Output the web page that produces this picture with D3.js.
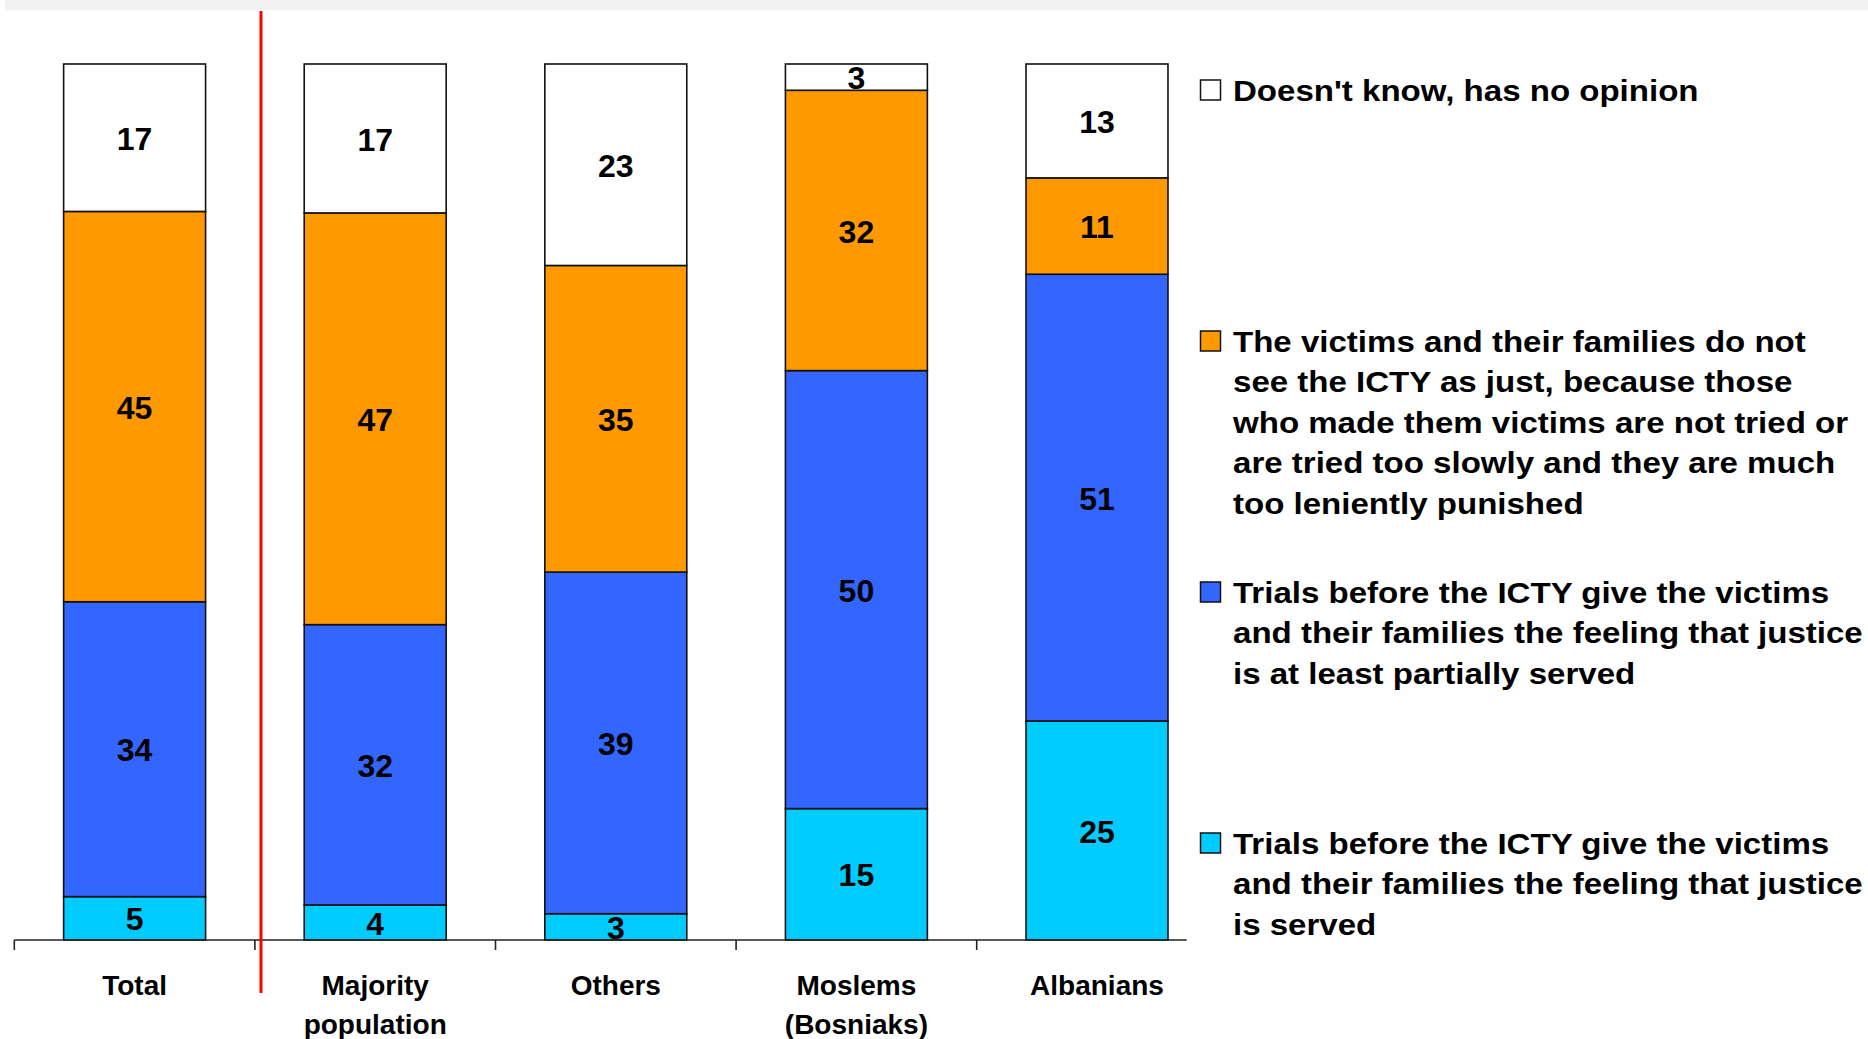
<!DOCTYPE html>
<html>
<head>
<meta charset="utf-8">
<script src="https://cdn.jsdelivr.net/npm/d3@7"></script>
<style>
  html, body { margin: 0; padding: 0; background: #fff; }
  svg { display: block; }
  text { font-family: "Liberation Sans", Arial, sans-serif; font-weight: bold; fill: #000; }
</style>
</head>
<body>
<svg id="chart" width="1868" height="1039"></svg>
<script>
// Groups along the x axis (label lines)
const categories = ["Total", "Majority population", "Others", "Moslems (Bosniaks)", "Albanians"];
const categoryLines = [["Total"], ["Majority", "population"], ["Others"], ["Moslems", "(Bosniaks)"], ["Albanians"]];

// Answer shares in percent, bottom to top of each column
const served      = [5, 4, 3, 15, 25];
const partially   = [34, 32, 39, 50, 51];
const notJust     = [45, 47, 35, 32, 11];
const noOpinion   = [17, 17, 23, 3, 13];

const seriesKeys = ["served", "partially", "notJust", "noOpinion"];
const seriesColors = ["#00CCFF", "#3366FF", "#FF9900", "#FFFFFF"];

// Legend entries, top to bottom, already broken into lines
const legendLines = [
  ["Doesn't know, has no opinion"],
  ["The victims and their families do not", "see the ICTY as just, because those",
   "who made them victims are not tried or", "are tried too slowly and they are much",
   "too leniently punished"],
  ["Trials before the ICTY give the victims", "and their families the feeling that justice",
   "is at least partially served"],
  ["Trials before the ICTY give the victims", "and their families the feeling that justice",
   "is served"]
];
const legendColors = ["#FFFFFF", "#FF9900", "#3366FF", "#00CCFF"];

const rows = categories.map((c, i) => ({
  category: c,
  served: served[i],
  partially: partially[i],
  notJust: notJust[i],
  noOpinion: noOpinion[i]
}));

const svg = d3.select("#chart");

// thin grey strip along the top edge
svg.append("rect").attr("x", 5).attr("y", 0).attr("width", 1863).attr("height", 10).attr("fill", "#F2F2F2");

const x = d3.scaleBand().domain(categories).range([14.3, 1217.3]).padding(0);
const y = d3.scaleLinear().domain([0, 1]).range([940, 64]);
const barW = x.bandwidth() * 0.59;

const stacked = d3.stack().keys(seriesKeys).offset(d3.stackOffsetExpand)(rows);

const layers = svg.append("g").selectAll("g")
  .data(stacked)
  .join("g")
  .attr("fill", (d, i) => seriesColors[i]);

layers.selectAll("rect")
  .data(d => d)
  .join("rect")
  .attr("x", d => x(d.data.category) + (x.bandwidth() - barW) / 2)
  .attr("y", d => y(d[1]))
  .attr("width", barW)
  .attr("height", d => y(d[0]) - y(d[1]))
  .attr("stroke", "#111")
  .attr("stroke-width", 1.6);

// value labels centred in each segment
stacked.forEach((layer, li) => {
  svg.append("g").selectAll("text")
    .data(layer)
    .join("text")
    .attr("x", d => x(d.data.category) + x.bandwidth() / 2)
    .attr("y", d => (y(d[0]) + y(d[1])) / 2)
    .attr("dy", "0.38em")
    .attr("text-anchor", "middle")
    .attr("font-size", 32)
    .text(d => d.data[seriesKeys[li]]);
});

// category axis: baseline with ticks between groups
const axis = svg.append("g");
axis.append("line")
  .attr("x1", x.range()[0]).attr("x2", 1186.7)
  .attr("y1", y(0)).attr("y2", y(0))
  .attr("stroke", "#222").attr("stroke-width", 1.6);
axis.selectAll("line.tick")
  .data(categories)
  .join("line")
  .attr("class", "tick")
  .attr("x1", d => x(d)).attr("x2", d => x(d))
  .attr("y1", y(0)).attr("y2", y(0) + 10)
  .attr("stroke", "#222").attr("stroke-width", 1.6);

const catLabels = axis.selectAll("text.cat")
  .data(categories)
  .join("text")
  .attr("class", "cat")
  .attr("text-anchor", "middle")
  .attr("font-size", 28)
  .attr("x", d => x(d) + x.bandwidth() / 2)
  .attr("y", 995);
catLabels.each(function(d, i) {
  const t = d3.select(this);
  categoryLines[i].forEach((line, k) => {
    t.append("tspan")
      .attr("x", x(d) + x.bandwidth() / 2)
      .attr("y", 995 + k * 39)
      .text(line);
  });
});

// red separator between the total and the groups
svg.append("line")
  .attr("x1", 261).attr("x2", 261)
  .attr("y1", 11).attr("y2", 993)
  .attr("stroke", "#FF0000").attr("stroke-width", 3);

// legend: square swatch plus wide bold text block
const legend = svg.append("g");
legendLines.forEach((lines, i) => {
  const base = 101 + i * 251;
  legend.append("rect")
    .attr("x", 1200.5).attr("y", base - 21)
    .attr("width", 20).attr("height", 20)
    .attr("fill", legendColors[i])
    .attr("stroke", "#111").attr("stroke-width", 1.5);
  const t = legend.append("text")
    .attr("font-size", 29)
    .attr("transform", `translate(1233,${base}) scale(1.14,1)`);
  lines.forEach((line, k) => {
    t.append("tspan").attr("x", 0).attr("y", k * 40.5).text(line);
  });
});
</script>
</body>
</html>
